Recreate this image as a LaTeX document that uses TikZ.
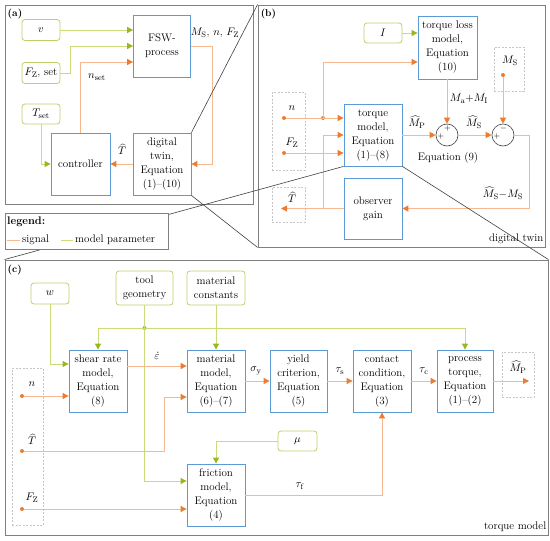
\documentclass[tikz,border=0pt]{standalone}
\usetikzlibrary{arrows.meta}
\definecolor{bblue}{HTML}{5B9BD5}
\definecolor{gbord}{HTML}{BDD16A}
\definecolor{sigl}{HTML}{F7B88F}
\definecolor{sigd}{HTML}{EE7B30}
\definecolor{parl}{HTML}{C8DC78}
\definecolor{pard}{HTML}{98B820}
\definecolor{framec}{HTML}{808080}
\definecolor{zoomc}{HTML}{404040}
\begin{document}
\begin{tikzpicture}[x=1pt,y=-1pt,font=\fontsize{11}{14}\selectfont,
  sz/.style 2 args={minimum width=#1pt,minimum height=#2pt},
  blk/.style={draw=bblue,line width=0.8pt,fill=white,align=center,inner sep=1pt},
  parbox/.style={draw=gbord,line width=0.8pt,rounded corners=3pt,fill=white,align=center,inner sep=1pt},
  dbox/.style={draw=gray!45,dash pattern=on 2pt off 1.5pt,line width=0.5pt},
  frm/.style={draw=framec,line width=0.9pt},
  sig/.style={draw=sigl,line width=0.9pt,-{Triangle[length=6pt,width=6pt,color=sigd]}},
  sigline/.style={draw=sigl,line width=0.9pt},
  pa/.style={draw=parl,line width=0.9pt,-{Triangle[length=6pt,width=6pt,color=pard]}},
  paline/.style={draw=parl,line width=0.9pt},
  sdot/.style={circle,fill=sigd,inner sep=0pt,minimum size=4pt},
  gdot/.style={circle,fill=pard,inner sep=0pt,minimum size=4pt},
  sumc/.style={circle,draw=black!75,line width=0.6pt,minimum size=22pt,inner sep=0pt},
  sgn/.style={font=\fontsize{8}{8}\selectfont,inner sep=0pt},
  zl/.style={draw=zoomc,line width=0.6pt},
  lbl/.style={inner sep=0.5pt}]
\useasboundingbox (0,0) rectangle (550,541);

% frames
\node[frm,sz={287}{242}] (fb) at (401.5,126) {};
\node[frm,sz={543}{275}] (fc) at (276.5,397.5) {};
\node[frm,sz={248}{199}] (fa) at (129,104.5) {};

% ---------- (a) ----------
\node[font=\bfseries\fontsize{10}{12}\selectfont,anchor=north west,inner sep=0pt] at (fa.north west) [xshift=3pt,yshift=-4pt] {(a)};
\node[blk,sz={57}{62}] (fsw) at (162,46) {FSW-\\process};
\node[parbox,sz={38}{21}] (v) at (41,30) {$v$};
\node[parbox,sz={38}{21}] (fzs) at (41,73) {$F_{\mathrm{Z}}$, set};
\node[parbox,sz={38}{20}] (tset) at (41,114) {$T_{\mathrm{set}}$};
\node[blk,sz={59}{62}] (ctrl) at (80.5,164) {controller};
\node[blk,sz={58}{62}] (dt) at (162,164) {digital\\twin,\\Equation\\(1)--(10)};

\draw[pa] (v.east) -- (v.east -| fsw.west);
\draw[pa] (fzs.east) -- ++(10,0) |- (fsw.west);
\draw[pa] (tset.south) |- (ctrl.west);
\draw[sig] (ctrl.north) |- ([yshift=-16pt]fsw.west);
\draw[sig] (fsw.east) -- ++(22,0) |- (dt.east);
\draw[sig] (dt.west) -- (ctrl.east);
\node[lbl] (la1) at (215,33) {$M_{\mathrm{S}}$, $n$, $F_{\mathrm{Z}}$};
\node[lbl] (la2) at (97,77) {$n_{\mathrm{set}}$};
\node[lbl] (la3) at (122,149) {$\widehat{T}$};

% ---------- zoom lines ----------
\draw[zl] (dt.north east) -- (fb.north west);
\draw[zl] (dt.south east) -- (fb.south west);

% ---------- (b) ----------
\node[font=\bfseries\fontsize{10}{12}\selectfont,anchor=north west,inner sep=0pt] at (fb.north west) [xshift=3pt,yshift=-4pt] {(b)};
\node[parbox,sz={38}{20}] (nI) at (383,33) {$I$};
\node[blk,sz={59}{63}] (tl) at (447.5,47.5) {torque loss\\model,\\Equation\\(10)};
\node[dbox,sz={30}{44}] (msbox) at (509,69) {};
\node[lbl] (msl) at (510,61) {$M_{\mathrm{S}}$};
\node[sdot] (dMs) at (503,75) {};
\node[dbox,sz={33}{78}] (nfbox) at (288.5,131) {};
\node[lbl] (nl) at (292,108) {$n$};
\node[lbl] (fzl) at (292,143) {$F_{\mathrm{Z}}$};
\node[sdot] (dn) at (284,118) {};
\node[sdot] (dF) at (284,153) {};
\node[blk,sz={58}{62}] (tm) at (373,135) {torque\\model,\\Equation\\(1)--(8)};
\node[sumc] (s1) at (447,135) {};
\node[sumc] (s2) at (503,135) {};
\node[sgn] at (447.5,128.5) {$+$};
\node[sgn] at (441,136) {$+$};
\node[sgn] at (503.5,128) {$-$};
\node[sgn] at (497,136) {$+$};
\node[lbl] (eq9) at (448,158) {Equation (9)};
\node[blk,sz={58}{61}] (og) at (373,208.5) {observer\\gain};
\node[dbox,sz={33}{35}] (tbox) at (288.5,204.5) {};
\node[lbl] (tl2) at (292,197) {$\widehat{T}$};
\coordinate (tend) at (281,208.5);
\node[sdot] (j1) at (323,118) {};
\coordinate (j2) at (323,208.5);
\node[anchor=south east,inner sep=2pt] (dtl) at (fb.south east) [yshift=1pt] {digital twin};

\draw[sig] (dn) -- (dn -| tm.west);
\draw[sig] (dF) -- (dF -| tm.west);
\draw[sig] (j1.center) |- ([yshift=-14.5pt]tl.west);
\draw[sig] (og.west) -- (tend);
\draw[sig] (j2) |- (tm.west);
\draw[sig] (tm.east) -- (s1.west);
\draw[sig] (s1.north |- tl.south) -- (s1.north);
\draw[sig] (s1.east) -- (s2.west);
\draw[sig] (dMs) -- (s2.north);
\draw[sig] (s2.east) -- ++(15,0) |- (og.east);
\draw[pa] (nI.east) -- (nI.east -| tl.west);
\node[lbl] (lmp) at (417,122) {$\widehat{M}_{\mathrm{P}}$};
\node[lbl] (lms) at (474,122) {$\widehat{M}_{\mathrm{S}}$};
\node[lbl] (lma) at (469,99) {$M_{\mathrm{a}}{+}M_{\mathrm{I}}$};
\node[lbl] (ldf) at (503,193) {$\widehat{M}_{\mathrm{S}}{-}M_{\mathrm{S}}$};

% zoom lines to (c)
\draw[zl] (tm.south west) -- (fc.north west);
\draw[zl] (tm.south east) -- (fc.north east);

% ---------- (c) ----------
\node[font=\bfseries\fontsize{10}{12}\selectfont,anchor=north west,inner sep=0pt] at (fc.north west) [xshift=3pt,yshift=-5pt] {(c)};
\node[parbox,sz={38}{21}] (w) at (50,293.5) {$w$};
\node[parbox,sz={57}{34}] (tg) at (144.5,288) {tool\\geometry};
\node[parbox,sz={58}{34}] (mc) at (216,288) {material\\constants};
\node[blk,sz={58}{62}] (sr) at (98,381) {shear rate\\model,\\Equation\\(8)};
\node[blk,sz={58}{62}] (mm) at (216,381) {material\\model,\\Equation\\(6)--(7)};
\node[blk,sz={57}{62}] (yc) at (298.5,381) {yield\\criterion,\\Equation\\(5)};
\node[blk,sz={58}{62}] (cc) at (382,381) {contact\\condition,\\Equation\\(3)};
\node[blk,sz={56}{62}] (pt) at (465,381) {process\\torque,\\Equation\\(1)--(2)};
\node[dbox,sz={32}{45}] (mpbox) at (518,374.5) {};
\node[lbl] (mpl) at (518,367) {$\widehat{M}_{\mathrm{P}}$};
\coordinate (mpend) at (529,381);
\node[dbox,sz={31}{157}] (inbox) at (27.5,446.5) {};
\node[lbl] (cnl) at (32,384) {$n$};
\node[lbl] (ctl) at (32,439) {$\widehat{T}$};
\node[lbl] (cfl) at (32,498) {$F_{\mathrm{Z}}$};
\node[sdot] (cdn) at (22,396) {};
\node[sdot] (cdT) at (22,451) {};
\node[sdot] (cdF) at (22,509) {};
\node[blk,sz={58}{62}] (fm) at (216,495) {friction\\model,\\Equation\\(4)};
\node[parbox,sz={39}{20}] (mu) at (297.5,441) {$\mu$};
\node[gdot] (jt) at (144.5,328) {};
\coordinate (kT) at (164,451);
\node[anchor=south east,inner sep=2pt] (tml) at (fc.south east) [yshift=2pt] {torque model};

\draw[pa] (w.south) |- ([yshift=17pt]sr.west);
\draw[paline] (tg.south) -- (jt.center);
\draw[pa] (jt.center) -| (sr.north);
\draw[pa] (jt.center) -| (pt.north);
\draw[pa] (jt.center) |- ([yshift=14pt]fm.west);
\draw[pa] (mc.south) -- (mm.north);
\draw[pa] (mu.west) -| (fm.north);
\draw[sig] ([yshift=15pt]sr.east) -- ([yshift=15pt]mm.west);
\draw[sig] (cdn) -- (cdn -| sr.west);
\draw[sig] (cdT) -- (kT) |- ([yshift=-16pt]mm.west);
\draw[sig] (cdF) -- (cdF -| fm.west);
\draw[sig] (mm.east) -- (yc.west);
\draw[sig] (yc.east) -- (cc.west);
\draw[sig] (cc.east) -- (pt.west);
\draw[sig] (fm.east) -| (cc.south);
\draw[sig] (pt.east) -- (mpend);
\node[lbl] (leps) at (157,356) {$\dot{\varepsilon}$};
\node[lbl] (lsy) at (256,371) {$\sigma_{\mathrm{y}}$};
\node[lbl] (lts) at (340,371) {$\tau_{\mathrm{s}}$};
\node[lbl] (ltc) at (424,371) {$\tau_{\mathrm{c}}$};
\node[lbl] (ltf) at (300,486) {$\tau_{\mathrm{f}}$};

% ---------- legend ----------
\node[frm,fill=white,sz={163}{36}] (leg) at (86.5,231) {};
\node[anchor=west,inner sep=0pt] (legt) at (7,222) {\textbf{legend:}};
\coordinate (ls1) at (7,240);
\coordinate (ls2) at (20,240);
\draw[sigline] (ls1) -- (ls2);
\node[anchor=west,inner sep=0pt] (lsig) at (22,240) {signal};
\coordinate (lp1) at (61,240);
\coordinate (lp2) at (73,240);
\draw[paline] (lp1) -- (lp2);
\node[anchor=west,inner sep=0pt] (lpar) at (75,240) {model parameter};
\end{tikzpicture}
\end{document}
